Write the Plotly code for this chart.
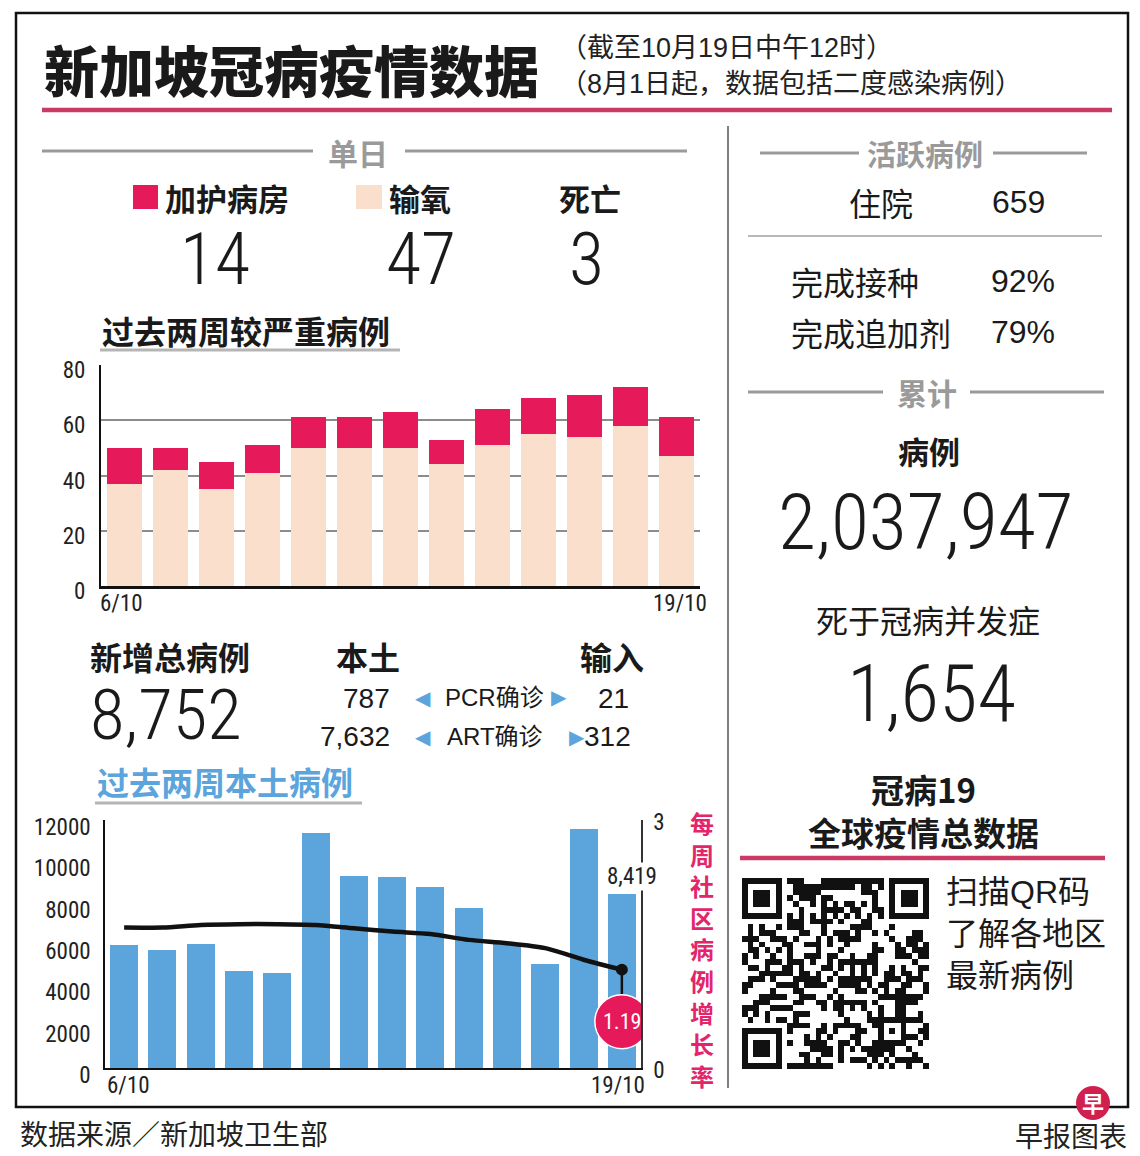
import plotly.graph_objects as go

W, H = 1140, 1156

# ---------------- data ----------------
top_dates = ["6/10", "7/10", "8/10", "9/10", "10/10", "11/10", "12/10",
             "13/10", "14/10", "15/10", "16/10", "17/10", "18/10"]
top_ticktext = ["6/10", "19/10"]
top_oxygen = [37, 42, 35, 41, 50, 50, 50, 44, 51, 55, 54, 58, 47]
top_icu = [13, 8, 10, 10, 11, 11, 13, 9, 13, 13, 15, 14, 14]
top_yticks = [0, 20, 40, 60, 80]

local_dates = ["6/10", "7/10", "8/10", "9/10", "10/10", "11/10", "12/10",
               "13/10", "14/10", "15/10", "16/10", "17/10", "18/10", "19/10"]
local_cases = [5950, 5710, 6000, 4680, 4600, 11370, 9310, 9230, 8760, 7740,
               6000, 5030, 11550, 8419]
growth_rate = [1.70, 1.70, 1.73, 1.74, 1.74, 1.73, 1.69, 1.65, 1.62, 1.55,
               1.51, 1.45, 1.31, 1.19]
local_yticks = [0, 2000, 4000, 6000, 8000, 10000, 12000]
rate_yticks = [0, 3]

daily_labels = ["加护病房", "输氧", "死亡"]
daily_values = [14, 47, 3]
new_total = 8752
pcr_local, pcr_import = 787, 21
art_local, art_import = 7632, 312
hospitalised = 659
vacc_full = "92%"
vacc_booster = "79%"
cum_cases = 2037947
cum_deaths = 1654

# ---------------- styles ----------------
CJK = "Noto Sans CJK SC"
SANS = "Liberation Sans, Noto Sans CJK SC, sans-serif"
NUM = ("Liberation Sans Narrow, Roboto Condensed, Noto Sans Condensed, "
       "Open Sans Condensed, Nimbus Sans Narrow, DejaVu Sans Condensed, sans-serif")
PINK = "#e6195a"
PALE = "#fbdfcd"
BLUE = "#5ca5dc"
LINEPINK = "#c93a64"
GREY = "#9a9a9a"
INK = "#1a1a1a"


def px(x):
    return x / W


def py(y):
    return 1 - y / H


annotations = []
shapes = []


def T(x, y, text, size, color=INK, family=CJK, weight="normal", anchor="center", height=None):
    a = dict(x=px(x), y=py(y), xref="paper", yref="paper", text=text, showarrow=False,
             xanchor=anchor, yanchor="middle",
             font=dict(size=size, color=color, family=family, weight=weight))
    if height is not None:
        a["height"] = height
        a["valign"] = "middle"
    annotations.append(a)


def L(x0, y0, x1, y1, color=GREY, width=3):
    shapes.append(dict(type="line", xref="paper", yref="paper",
                       x0=px(x0), y0=py(y0), x1=px(x1), y1=py(y1),
                       line=dict(color=color, width=width)))


fig = go.Figure()

# ---------------- top chart: severe cases ----------------
fig.add_trace(go.Bar(x=top_dates, y=top_oxygen, width=0.76,
                     marker=dict(color=PALE, line=dict(width=0)),
                     xaxis="x", yaxis="y", hoverinfo="skip"))
fig.add_trace(go.Bar(x=top_dates, y=top_icu, width=0.76,
                     marker=dict(color=PINK, line=dict(width=0)),
                     xaxis="x", yaxis="y", hoverinfo="skip"))

# ---------------- bottom chart: local cases ----------------
fig.add_trace(go.Bar(x=local_dates, y=local_cases, width=0.73,
                     marker=dict(color=BLUE, line=dict(width=0)),
                     xaxis="x2", yaxis="y2", hoverinfo="skip"))
fig.add_trace(go.Scatter(x=local_dates, y=growth_rate, mode="lines",
                         line=dict(color="#111111", width=4.5, shape="spline", smoothing=0.8),
                         xaxis="x2", yaxis="y3", hoverinfo="skip"))
fig.add_trace(go.Scatter(x=[local_dates[-1]], y=[growth_rate[-1]], mode="markers",
                         marker=dict(color="#111111", size=12),
                         xaxis="x2", yaxis="y3", hoverinfo="skip"))

# ---------------- QR code (decorative pattern) ----------------
N = 33
qr = [[0] * N for _ in range(N)]
res = [[False] * N for _ in range(N)]


def finder(r0, c0):
    for r in range(-1, 8):
        for c in range(-1, 8):
            rr, cc = r0 + r, c0 + c
            if 0 <= rr < N and 0 <= cc < N:
                res[rr][cc] = True
                if 0 <= r <= 6 and 0 <= c <= 6:
                    on = r in (0, 6) or c in (0, 6) or (2 <= r <= 4 and 2 <= c <= 4)
                    qr[rr][cc] = 1 if on else 0


finder(0, 0)
finder(0, N - 7)
finder(N - 7, 0)
for r in range(-2, 3):
    for c in range(-2, 3):
        res[26 + r][26 + c] = True
        qr[26 + r][26 + c] = 1 if max(abs(r), abs(c)) in (0, 2) else 0
for i in range(8, N - 8):
    res[6][i] = res[i][6] = True
    qr[6][i] = qr[i][6] = 1 if i % 2 == 0 else 0
for r in range(N):
    for c in range(N):
        if not res[r][c]:
            h = ((r * 73856093) ^ (c * 19349663) ^ (r * c * 83492791)) & 0xFFFFFF
            qr[r][c] = 1 if ((h >> 7) % 100) < 50 else 0

fig.add_trace(go.Heatmap(z=qr, colorscale=[[0, "#ffffff"], [1, "#111111"]], zmin=0, zmax=1,
                         showscale=False, xaxis="x4", yaxis="y4", hoverinfo="skip",
                         xgap=0, ygap=0))

# ---------------- axes ----------------
tickfont = dict(family=NUM, size=23, color="#222222")
fig.update_layout(
    width=W, height=H, margin=dict(l=0, r=0, t=0, b=0, pad=0, autoexpand=False),
    paper_bgcolor="white", plot_bgcolor="rgba(0,0,0,0)",
    showlegend=False, barmode="stack",
    xaxis=dict(domain=[px(101), px(700)], anchor="y", type="category",
               range=[-0.5, len(top_dates) - 0.5], showticklabels=False,
               showline=True, linecolor="#111111", linewidth=2.5, showgrid=False,
               ticks="", automargin=False, fixedrange=True),
    yaxis=dict(domain=[py(586), py(365)], anchor="x", range=[0, 80], tickvals=top_yticks,
               showline=True, linecolor="#111111", linewidth=2, showgrid=True,
               gridcolor="#8c8c8c", gridwidth=2, zeroline=False, ticks="",
               tickfont=tickfont, ticklabelstandoff=9, ticklabelshift=5,
               automargin=False, fixedrange=True),
    xaxis2=dict(domain=[px(105), px(641)], anchor="y2", type="category",
                range=[-0.5, len(local_dates) - 0.5], showticklabels=False,
                showline=True, linecolor="#111111", linewidth=2, showgrid=False,
                ticks="", automargin=False, fixedrange=True),
    yaxis2=dict(domain=[py(1068), py(820)], anchor="x2", range=[0, 12000],
                tickvals=local_yticks, ticktext=[str(v) for v in local_yticks],
                showline=True, linecolor="#111111", linewidth=1.5, showgrid=False,
                zeroline=False, ticks="", tickfont=tickfont,
                ticklabelstandoff=8, ticklabelshift=7, automargin=False, fixedrange=True),
    yaxis3=dict(overlaying="y2", anchor="x2", side="right", range=[0, 3], tickvals=rate_yticks,
                showline=True, linecolor="#333333", linewidth=1.5, showgrid=False,
                zeroline=False, ticks="", tickfont=tickfont,
                ticklabelstandoff=6, ticklabelshift=2, automargin=False, fixedrange=True),
    xaxis4=dict(domain=[px(742), px(929)], anchor="y4", visible=False, automargin=False,
                fixedrange=True),
    yaxis4=dict(domain=[py(1069), py(878)], anchor="x4", visible=False, automargin=False,
                autorange="reversed", fixedrange=True),
)

# x tick labels (first and last day) as axis-referenced text
annotations.append(dict(x=top_dates[0], y=py(603), xref="x", yref="paper", text=top_ticktext[0],
                        showarrow=False, xshift=-3, xanchor="center", yanchor="middle",
                        font=tickfont))
annotations.append(dict(x=top_dates[-1], y=py(603), xref="x", yref="paper", text=top_ticktext[1],
                        showarrow=False, xshift=3, xanchor="center", yanchor="middle",
                        font=tickfont))
annotations.append(dict(x=local_dates[0], y=py(1085), xref="x2", yref="paper",
                        text=local_dates[0], showarrow=False, xshift=4, xanchor="center",
                        yanchor="middle", font=tickfont))
annotations.append(dict(x=local_dates[-1], y=py(1085), xref="x2", yref="paper",
                        text=local_dates[-1], showarrow=False, xshift=-4, xanchor="center",
                        yanchor="middle", font=tickfont))

# ---------------- frame and rules ----------------
shapes.append(dict(type="rect", xref="paper", yref="paper", x0=px(16), y0=py(13),
                   x1=px(1128), y1=py(1107), line=dict(color="#111111", width=2.5)))
L(42, 110, 1112, 110, LINEPINK, 4.5)
L(728, 126, 728, 1088, "#555555", 1.5)
L(42, 151, 313, 151)
L(405, 151, 687, 151)
L(100, 350, 400, 350, "#b5b5b5", 3)
L(95, 803, 362, 803, "#b5b5b5", 3)
L(760, 153, 859, 153)
L(993, 153, 1087, 153)
L(748, 236, 1102, 236, "#a0a0a0", 1.5)
L(748, 392, 883, 392)
L(970, 392, 1104, 392)
L(740, 858, 1105, 858, LINEPINK, 4.5)

# legend squares
shapes.append(dict(type="rect", xref="paper", yref="paper", x0=px(133), x1=px(158),
                   y0=py(209), y1=py(185), fillcolor=PINK, line=dict(width=0)))
shapes.append(dict(type="rect", xref="paper", yref="paper", x0=px(356), x1=px(382),
                   y0=py(209), y1=py(185), fillcolor=PALE, line=dict(width=0)))

# growth-rate callout attached to last point
last = len(local_dates) - 1
shapes.append(dict(type="line", xref="x2", yref="y3", xsizemode="pixel", ysizemode="pixel",
                   xanchor=last, yanchor=growth_rate[-1], x0=0, x1=0, y0=0, y1=-26,
                   line=dict(color="#111111", width=2.5)))
shapes.append(dict(type="circle", xref="x2", yref="y3", xsizemode="pixel", ysizemode="pixel",
                   xanchor=last, yanchor=growth_rate[-1], x0=-27, x1=27, y0=-79, y1=-25,
                   fillcolor=PINK, line=dict(color="white", width=1.5)))
annotations.append(dict(x=last, y=growth_rate[-1], xref="x2", yref="y3",
                        text=f"{growth_rate[-1]:.2f}", showarrow=False, yshift=-52,
                        xanchor="center", yanchor="middle",
                        font=dict(family=NUM, size=22, color="white")))
annotations.append(dict(x=last, y=local_cases[-1], xref="x2", yref="y2",
                        text=f"{local_cases[-1]:,}", showarrow=False, yanchor="bottom",
                        xanchor="center", yshift=3, xshift=10, bgcolor="white", borderpad=0,
                        font=dict(family=NUM, size=23, color="#222222")))

# logo
shapes.append(dict(type="circle", xref="paper", yref="paper", x0=px(1076), x1=px(1110),
                   y0=py(1120), y1=py(1086), fillcolor="#d11f4f", line=dict(width=0)))

# ---------------- texts ----------------
T(42, 68, "新加坡冠病疫情数据", 55, INK, CJK, 900, "left")
T(558, 48, "（截至10月19日中午12时）", 27, "#222222", SANS, "normal", "left", 33)
T(558, 83, "（8月1日起，数据包括二度感染病例）", 27, "#222222", SANS, "normal", "left", 33)

T(358, 152, "单日", 30, GREY, CJK, "bold")
T(163, 197, daily_labels[0], 31, INK, CJK, "bold", "left")
T(387, 197, daily_labels[1], 31, INK, CJK, "bold", "left")
T(590, 197, daily_labels[2], 31, INK, CJK, "bold")
T(215, 259, f"{daily_values[0]}", 72, INK, NUM, 300, "center", 64)
T(421, 259, f"{daily_values[1]}", 72, INK, NUM, 300, "center", 64)
T(586, 259, f"{daily_values[2]}", 72, INK, NUM, 300, "center", 64)
T(100, 330, "过去两周较严重病例", 32, INK, CJK, "bold", "left")

T(88, 656, "新增总病例", 32, INK, CJK, "bold", "left")
T(368, 656, "本土", 32, INK, CJK, "bold")
T(612, 656, "输入", 32, INK, CJK, "bold")
T(166, 714, f"{new_total:,}", 71, INK, NUM, 300, "center", 70)
T(392, 698, f"{pcr_local:,}", 28, INK, SANS, "normal", "right")
T(392, 736, f"{art_local:,}", 28, INK, SANS, "normal", "right")
T(423, 698, "◀", 20, BLUE, "DejaVu Sans")
T(423, 737, "◀", 20, BLUE, "DejaVu Sans")
T(559, 697, "▶", 20, BLUE, "DejaVu Sans")
T(577, 737, "▶", 20, BLUE, "DejaVu Sans")
T(443, 697, "PCR确诊", 24, INK, SANS, "normal", "left")
T(445, 736, "ART确诊", 24, INK, SANS, "normal", "left")
T(631, 698, f"{pcr_import}", 28, INK, SANS, "normal", "right")
T(633, 736, f"{art_import}", 28, INK, SANS, "normal", "right")
T(95, 781, "过去两周本土病例", 32, BLUE, CJK, "bold", "left")

for i, ch in enumerate("每周社区病例增长率"):
    T(702, 822 + i * 31.6, ch, 24, "#e3256b", CJK, "bold", "center", 30)

T(925, 153, "活跃病例", 29, GREY, CJK, "bold")
T(881, 202, "住院", 32, INK, CJK)
T(990, 202, f"{hospitalised}", 32, INK, SANS, "normal", "left")
T(789, 281, "完成接种", 32, INK, CJK, "normal", "left")
T(989, 281, vacc_full, 32, INK, SANS, "normal", "left")
T(789, 332, "完成追加剂", 32, INK, CJK, "normal", "left")
T(989, 332, vacc_booster, 32, INK, SANS, "normal", "left")
T(927, 392, "累计", 30, GREY, CJK, "bold")
T(929, 450, "病例", 31, INK, CJK, "bold")
T(926, 522, f"{cum_cases:,}", 78, INK, NUM, 300, "center", 78)
T(928, 619, "死于冠病并发症", 32, INK, CJK)
T(931, 694, f"{cum_deaths:,}", 79, INK, NUM, 300, "center", 78)
T(923, 810, "冠病19<br>全球疫情总数据", 33, INK, CJK, "bold")

T(944, 892, "扫描QR码", 32, INK, SANS, "normal", "left", 38)
T(944, 934, "了解各地区", 32, INK, SANS, "normal", "left", 38)
T(944, 976, "最新病例", 32, INK, SANS, "normal", "left", 38)

T(18, 1133, "数据来源／新加坡卫生部", 28, "#222222", CJK, "normal", "left")
T(1129, 1135, "早报图表", 28, "#222222", CJK, "normal", "right")
T(1093, 1102, "早", 22, "white", CJK, "bold", "center", 26)

fig.update_layout(shapes=shapes, annotations=annotations)

fig.write_html("out.html", config={"displayModeBar": False},
               post_script="document.body.style.margin='0';")
